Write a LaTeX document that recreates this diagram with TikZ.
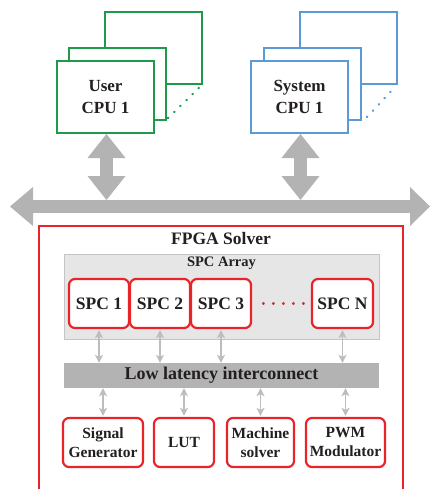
\documentclass[tikz,border=0pt]{standalone}
\usepackage{fontspec}
\setmainfont{Liberation Serif}
\usetikzlibrary{arrows.meta}
\definecolor{cgreen}{HTML}{1E9A4A}
\definecolor{cblue}{HTML}{5B9BD5}
\definecolor{cred}{HTML}{E8232A}
\definecolor{bigg}{HTML}{B3B3B3}
\definecolor{smallg}{HTML}{BDBDBD}
\definecolor{arrfill}{HTML}{E6E6E6}
\definecolor{arrdraw}{HTML}{C4C4C4}
\definecolor{txt}{HTML}{231F20}
\begin{document}
\begin{tikzpicture}[x=1pt,y=-1pt,
  cpubox/.style={draw=#1, line width=2pt, fill=white, minimum width=97pt, minimum height=72pt, inner sep=0pt, align=center, text=txt, font=\fontsize{17}{22}\selectfont\bfseries},
  backbox/.style={draw=#1, line width=2pt, fill=white, minimum width=97pt, minimum height=72pt, inner sep=0pt},
  cpudots/.style={draw=#1, line width=2.2pt, line cap=round, dash pattern=on 0.6pt off 7.9pt},
  bigarrow/.style={draw=bigg, line width=13pt, arrows={Triangle[width=38pt,length=24pt,line width=0pt]-Triangle[width=38pt,length=24pt,line width=0pt]}},
  spcbox/.style={draw=cred, line width=2.2pt, fill=white, rounded corners=6pt, minimum height=49pt, inner sep=0pt, align=center, text=txt, font=\fontsize{17.5}{20}\selectfont\bfseries},
  modbox/.style={draw=cred, line width=2.2pt, fill=white, rounded corners=6pt, minimum height=49pt, inner sep=0pt, align=center, text=txt, font=\fontsize{15.5}{19}\selectfont\bfseries},
  smallarr/.style={draw=smallg, line width=1.3pt, arrows={Stealth[width=8pt,length=8pt,inset=2pt]-Stealth[width=8pt,length=8pt,inset=2pt]}}
]
\useasboundingbox (0,0) rectangle (430,489);
\clip (0,0) rectangle (430,489);

% User CPU stack
\node[backbox=cgreen] (ub2) at (153.5,48) {};
\node[backbox=cgreen] (ub1) at (117.5,84) {};
\node[cpubox=cgreen] (ucpu) at (105.5,97) {User\\CPU 1};
\coordinate (ud1) at (168,118);
\coordinate (ud2) at (201,86);
\draw[cpudots=cgreen] (ud1) -- (ud2);

% System CPU stack
\node[backbox=cblue] (sb2) at (348,48) {};
\node[backbox=cblue] (sb1) at (312,84) {};
\node[cpubox=cblue] (scpu) at (299.5,97) {System\\CPU 1};
\coordinate (sd1) at (367,117);
\coordinate (sd2) at (396,86);
\draw[cpudots=cblue] (sd1) -- (sd2);

% Bus
\coordinate (busL) at (10,206.5);
\coordinate (busR) at (430,206.5);
\draw[bigarrow, arrows={Triangle[width=39pt,length=23pt,line width=0pt]-Triangle[width=39pt,length=20pt,line width=0pt]}] (busL) -- (busR);
\coordinate (ubus) at (106.5,200);
\coordinate (sbus) at (300.5,200);
\coordinate (utop) at (106.5,134);
\coordinate (stop) at (300.5,134);
\draw[bigarrow] (utop) -- (ubus);
\draw[bigarrow] (stop) -- (sbus);

% FPGA solver box
\draw[cred, line width=2pt] (39,492) -- (39,226) -- (403,226) -- (403,492);
\node[text=txt, font=\fontsize{17.5}{20}\selectfont\bfseries] (fpga) at (221,239) {FPGA Solver};

% SPC array
\node[draw=arrdraw, fill=arrfill, line width=1pt, minimum width=315pt, minimum height=85pt, inner sep=0pt] (arr) at (221.5,296.5) {};
\node[text=txt, font=\fontsize{14.5}{17}\selectfont\bfseries] (arrlbl) at (221.5,263.5) {SPC Array};

\node[spcbox, minimum width=60pt] (s1) at (99,303.5) {SPC 1};
\node[spcbox, minimum width=60pt] (s2) at (160,303.5) {SPC 2};
\node[spcbox, minimum width=60pt] (s3) at (221,303.5) {SPC 3};
\node[spcbox, minimum width=61pt] (sn) at (342.5,303.5) {SPC N};
\draw[cred, line width=2.4pt, line cap=round, dash pattern=on 0.6pt off 9.4pt, shorten <=11pt, shorten >=2pt] (s3.east) -- (sn.west);

% interconnect
\node[fill=bigg, minimum width=315pt, minimum height=25pt, inner sep=0pt, text=txt, font=\fontsize{18}{20}\selectfont\bfseries] (ic) at (221.5,375.5) {Low latency interconnect};

% modules
\node[modbox, minimum width=80pt] (sg) at (103,442.5) {Signal\\Generator};
\node[modbox, minimum width=60pt] (lut) at (184,442.5) {LUT};
\node[modbox, minimum width=67pt] (ms) at (260.5,442.5) {Machine\\solver};
\node[modbox, minimum width=79pt] (pwm) at (345.5,442.5) {PWM\\Modulator};

% small arrows
\foreach \n in {s1,s2,s3,sn}
  \draw[smallarr] ([yshift=-1pt]\n.south) -- (\n.south |- ic.north);
\foreach \n in {sg,lut,ms,pwm}
  \draw[smallarr] (\n.north |- ic.south) -- ([yshift=1pt]\n.north);
\end{tikzpicture}
\end{document}
